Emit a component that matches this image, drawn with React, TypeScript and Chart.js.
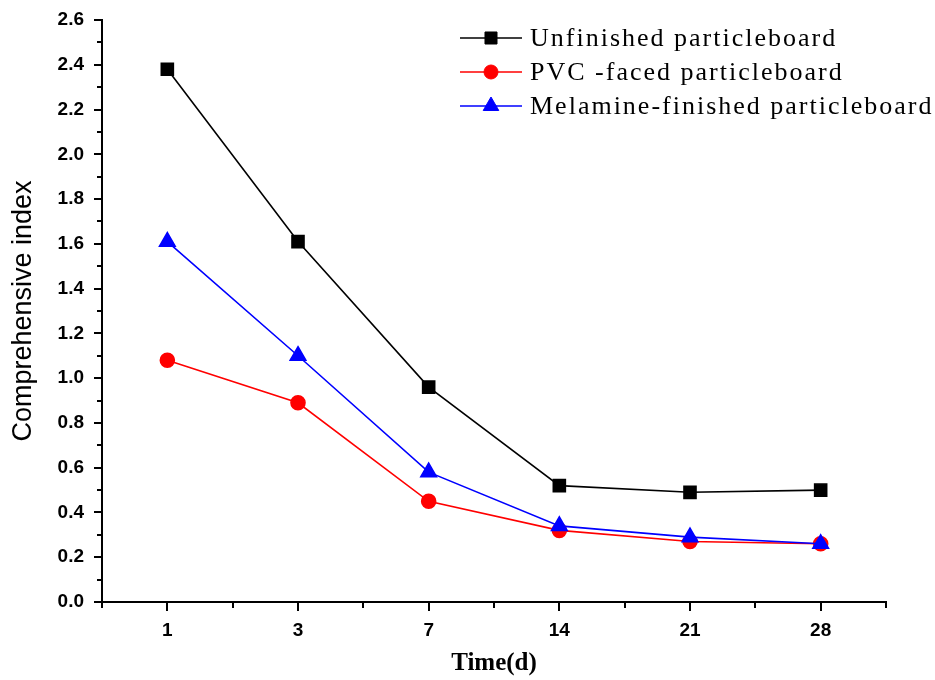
import React, { useEffect, useRef } from "react";
import { Chart, registerables } from "chart.js";
import { drawPoint } from "chart.js/helpers";

Chart.register(...registerables);

const days = ["1", "3", "7", "14", "21", "28"];
const unfinished = [2.38, 1.61, 0.96, 0.52, 0.49, 0.5];
const pvcFaced = [1.08, 0.89, 0.45, 0.32, 0.27, 0.26];
const melamine = [1.61, 1.1, 0.58, 0.34, 0.29, 0.26];
const seriesNames = [
  "Unfinished particleboard",
  "PVC -faced particleboard",
  "Melamine-finished particleboard",
];
const yMin = 0;
const yMax = 2.6;
const yMajorStep = 0.2;

const tickPlugin = {
  id: "originTicks",
  afterDraw(chart: any) {
    const ctx = chart.ctx;
    const x = chart.scales.x;
    const y = chart.scales.y;
    ctx.save();
    ctx.strokeStyle = "#000";
    ctx.lineWidth = 2;
    const n = Math.round((yMax - yMin) / (yMajorStep / 2));
    for (let i = 0; i <= n; i++) {
      const v = yMin + (i * yMajorStep) / 2;
      const py = Math.round(y.getPixelForValue(v));
      const len = i % 2 === 0 ? 8 : 5;
      ctx.beginPath();
      ctx.moveTo(x.left, py);
      ctx.lineTo(x.left - len, py);
      ctx.stroke();
    }
    const count = days.length;
    const w = (x.right - x.left) / count;
    for (let i = 0; i < count; i++) {
      const px = Math.round(x.getPixelForValue(i));
      ctx.beginPath();
      ctx.moveTo(px, y.bottom);
      ctx.lineTo(px, y.bottom + 9);
      ctx.stroke();
    }
    for (let i = 0; i <= count; i++) {
      const px = Math.round(x.left + i * w);
      ctx.beginPath();
      ctx.moveTo(px, y.bottom);
      ctx.lineTo(px, y.bottom + 6);
      ctx.stroke();
    }
    ctx.restore();
  },
};

const legendPlugin = {
  id: "insideLegend",
  afterDraw(chart: any) {
    const ctx = chart.ctx;
    const area = chart.chartArea;
    const x0 = area.left + 358;
    const x1 = area.left + 420;
    const xm = (x0 + x1) / 2;
    const tx = area.left + 428;
    ctx.save();
    chart.data.datasets.forEach((ds: any, i: number) => {
      const yy = area.top + 18 + i * 34;
      ctx.strokeStyle = ds.borderColor;
      ctx.lineWidth = 1.5;
      ctx.beginPath();
      ctx.moveTo(x0, yy);
      ctx.lineTo(x1, yy);
      ctx.stroke();
      ctx.fillStyle = ds.pointBackgroundColor;
      ctx.strokeStyle = ds.pointBorderColor;
      ctx.lineWidth = 1;
      drawPoint(ctx, { pointStyle: ds.pointStyle, radius: ds.pointRadius, borderWidth: 1, rotation: 0 } as any, xm, yy);
      ctx.fillStyle = "#000";
      ctx.font = "26px 'Liberation Serif'";
      (ctx as any).letterSpacing = "2px";
      ctx.textBaseline = "middle";
      ctx.textAlign = "left";
      ctx.fillText(ds.label, tx, yy + 1);
    });
    ctx.restore();
  },
};

export default function App() {
  const ref = useRef<HTMLCanvasElement>(null);
  useEffect(() => {
    if (!ref.current) return;
    const chart = new Chart(ref.current, {
      type: "line",
      data: {
        labels: days,
        datasets: [
          {
            label: seriesNames[0],
            data: unfinished,
            borderColor: "#000000",
            backgroundColor: "#000000",
            pointBackgroundColor: "#000000",
            pointBorderColor: "#000000",
            pointStyle: "rect",
            pointRadius: 8.5,
            borderWidth: 1.6,
            order: 2,
          },
          {
            label: seriesNames[1],
            data: pvcFaced,
            borderColor: "#ff0000",
            backgroundColor: "#ff0000",
            pointBackgroundColor: "#ff0000",
            pointBorderColor: "#ff0000",
            pointStyle: "circle",
            pointRadius: 7,
            borderWidth: 1.6,
            order: 1,
          },
          {
            label: seriesNames[2],
            data: melamine,
            borderColor: "#0000ff",
            backgroundColor: "#0000ff",
            pointBackgroundColor: "#0000ff",
            pointBorderColor: "#0000ff",
            pointStyle: "triangle",
            pointRadius: 9,
            borderWidth: 1.6,
            order: 0,
          },
        ],
      },
      options: {
        responsive: false,
        animation: false,
        layout: { padding: { top: 20, right: 49, left: 0, bottom: 0 } },
        plugins: {
          legend: { display: false },
          tooltip: { enabled: false },
        },
        scales: {
          x: {
            type: "category",
            offset: true,
            grid: { display: false, drawTicks: false },
            border: { display: true, color: "#000", width: 2 },
            ticks: {
              color: "#000",
              padding: 17,
              font: { family: "'Liberation Sans', Arial", size: 19, weight: "bold" },
            },
            title: {
              display: true,
              text: "Time(d)",
              color: "#000",
              font: { family: "'Liberation Serif', 'Times New Roman'", size: 25, weight: "bold" },
              padding: { top: 0, bottom: 1 },
            },
            afterFit: (s: any) => {
              s.height = 78;
              s.paddingLeft = 0;
              s.paddingRight = 0;
            },
          },
          y: {
            type: "linear",
            min: yMin,
            max: yMax,
            grid: { display: false, drawTicks: false },
            border: { display: true, color: "#000", width: 2 },
            ticks: {
              stepSize: yMajorStep,
              color: "#000",
              padding: 18,
              font: { family: "'Liberation Sans', Arial", size: 19, weight: "bold" },
              callback: (v: any) => Number(v).toFixed(1),
            },
            title: {
              display: true,
              text: "Comprehensive index",
              color: "#000",
              font: { family: "'Liberation Sans', Arial", size: 27, weight: "normal" },
              padding: { top: 7, bottom: 0 },
            },
            afterFit: (s: any) => {
              s.width = 102;
              s.paddingTop = 0;
              s.paddingBottom = 0;
            },
          },
        },
      },
      plugins: [tickPlugin, legendPlugin],
    });
    return () => chart.destroy();
  }, []);
  return (
    <div style={{ position: "absolute", left: 0, top: 0, width: 935, height: 680, background: "#fff" }}>
      <canvas ref={ref} width={935} height={680} />
    </div>
  );
}
